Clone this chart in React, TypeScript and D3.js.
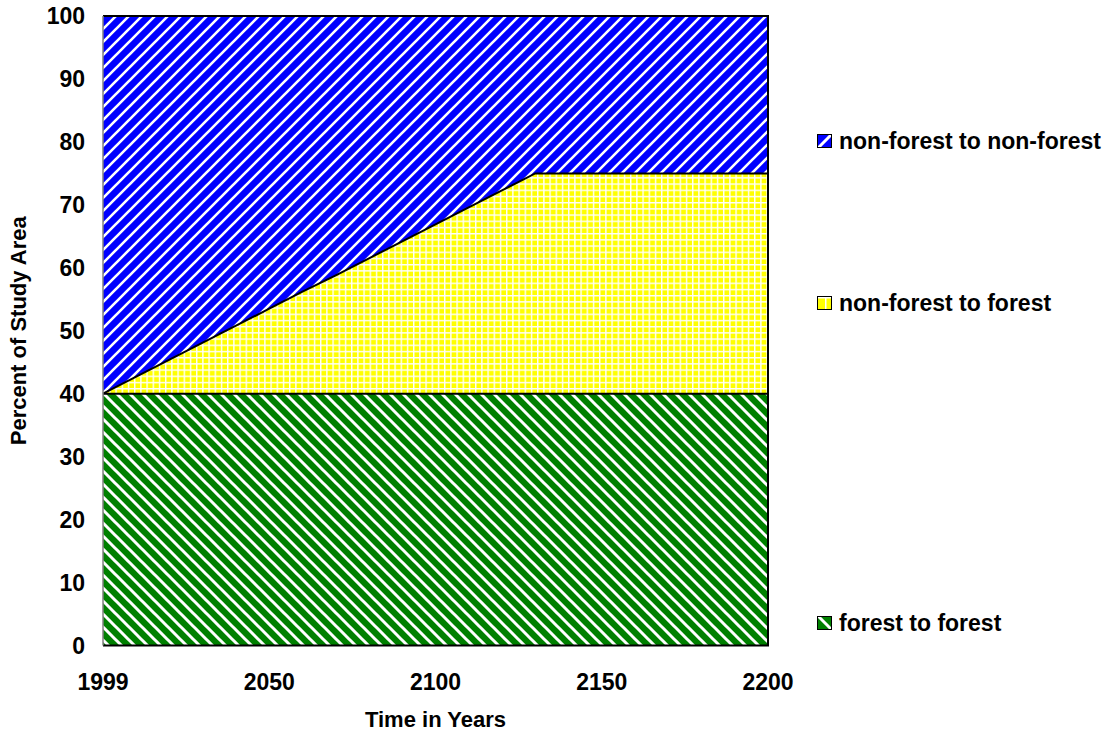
import React from "react";
import * as d3 from "d3";

const categories = ["1999","2010","2020","2030","2040","2050","2060","2070","2080","2090","2100","2110","2120","2130","2140","2150","2160","2170","2180","2190","2200"];
const forestToForest = [40,40,40,40,40,40,40,40,40,40,40,40,40,40,40,40,40,40,40,40,40];
const nonForestToForest = [0,2.7,5.4,8.1,10.8,13.5,16.2,18.8,21.5,24.2,26.9,29.6,32.3,35,35,35,35,35,35,35,35];
const nonForestToNonForest = [60,57.3,54.6,51.9,49.2,46.5,43.8,41.2,38.5,35.8,33.1,30.4,27.7,25,25,25,25,25,25,25,25];
const yTicks = [0,10,20,30,40,50,60,70,80,90,100];
const seriesNames = ["forest to forest","non-forest to forest","non-forest to non-forest"];

const FONT = "'Liberation Sans', Arial, sans-serif";

export default function App() {
  const W = 1110, H = 736;
  const left = 103, right = 768, top = 16, bottom = 645.5;
  const x = d3.scalePoint<string>().domain(categories).range([left, right]);
  const y = d3.scaleLinear().domain([0, 100]).range([bottom, top]);

  const rows = categories.map((c, i) => ({
    cat: c,
    f2f: forestToForest[i],
    nf2f: nonForestToForest[i],
    nf2nf: nonForestToNonForest[i],
  }));
  const stack = d3.stack<any>().keys(["f2f", "nf2f", "nf2nf"]);
  const layers = stack(rows);
  const area = d3.area<any>()
    .x((d) => x(d.data.cat) as number)
    .y0((d) => y(d[0]))
    .y1((d) => y(d[1]));
  const topLine = d3.line<any>()
    .x((d) => x(d.data.cat) as number)
    .y((d) => y(d[1]));

  const fills = ["url(#pGreen)", "url(#pYellow)", "url(#pBlue)"];
  const xTickCats = categories.filter((_, i) => i % 5 === 0);

  const legend = [
    { name: seriesNames[2], fill: "url(#pBlueL)", y: 141 },
    { name: seriesNames[1], fill: "url(#pYellowL)", y: 303 },
    { name: seriesNames[0], fill: "url(#pGreenL)", y: 623 },
  ];

  const P = 13; // stripe period
  const G = 6.2; // grid period

  return (
    <svg width={W} height={H} style={{ position: "absolute", left: 0, top: 0, display: "block", background: "#fff" }}>
      <defs>
        <pattern id="pBlue" patternUnits="userSpaceOnUse" width={P} height={P} x={left} y={top}>
          <rect width={P} height={P} fill="#0000ff" />
          <path d={`M${-P / 4},${P / 4} L${P / 4},${-P / 4} M0,${P} L${P},0 M${P * 0.75},${P * 1.25} L${P * 1.25},${P * 0.75}`} stroke="#ffffff" strokeWidth={2.6} />
        </pattern>
        <pattern id="pGreen" patternUnits="userSpaceOnUse" width={P} height={P} x={left} y={top}>
          <rect width={P} height={P} fill="#008000" />
          <path d={`M${-P / 4},${P * 0.75} L${P / 4},${P * 1.25} M0,0 L${P},${P} M${P * 0.75},${-P / 4} L${P * 1.25},${P / 4}`} stroke="#ffffff" strokeWidth={3} />
        </pattern>
        <pattern id="pYellow" patternUnits="userSpaceOnUse" width={G} height={G} x={left} y={top}>
          <rect width={G} height={G} fill="#ffff00" />
          <rect x={0} y={0} width={G} height={1.4} fill="#ffffff" />
          <rect x={0} y={0} width={1.4} height={G} fill="#ffffff" />
        </pattern>
        <pattern id="pBlueL" patternUnits="userSpaceOnUse" width={16} height={16} x={817} y={133}>
          <rect width={16} height={16} fill="#0000ff" />
          <path d="M0,16 L16,0" stroke="#ffffff" strokeWidth={3} />
        </pattern>
        <pattern id="pGreenL" patternUnits="userSpaceOnUse" width={16} height={16} x={817} y={615}>
          <rect width={16} height={16} fill="#008000" />
          <path d="M0,0 L16,16" stroke="#ffffff" strokeWidth={3} />
        </pattern>
        <pattern id="pYellowL" patternUnits="userSpaceOnUse" width={16} height={16} x={817} y={295}>
          <rect width={16} height={16} fill="#ffff00" />
          <rect x={8} y={0} width={1.5} height={16} fill="#ffffff" />
          <rect x={0} y={2} width={16} height={1.5} fill="#ffffff" />
        </pattern>
      </defs>

      {layers.map((layer, i) => (
        <path key={i} d={area(layer as any) || ""} fill={fills[i]} stroke="none" />
      ))}
      {layers.slice(0, 2).map((layer, i) => (
        <path key={"l" + i} d={topLine(layer as any) || ""} fill="none" stroke="#000" strokeWidth={2} />
      ))}

      {/* plot frame */}
      <path d={`M${left},${top} L${right},${top} L${right},${bottom} L${left},${bottom}`} fill="none" stroke="#000" strokeWidth={2} />
      <line x1={left} x2={left} y1={top} y2={bottom} stroke="#808080" strokeWidth={1.5} />

      {yTicks.map((t) => (
        <text key={t} x={85} y={y(t)} dy="0.35em" textAnchor="end" fontFamily={FONT} fontWeight="bold" fontSize={23} fill="#000">
          {t}
        </text>
      ))}
      {xTickCats.map((c) => (
        <text key={c} x={x(c)} y={690} textAnchor="middle" fontFamily={FONT} fontWeight="bold" fontSize={23} fill="#000">
          {c}
        </text>
      ))}

      <text x={(left + right) / 2} y={727} textAnchor="middle" fontFamily={FONT} fontWeight="bold" fontSize={22} fill="#000">
        Time in Years
      </text>
      <text transform={`translate(26,${(top + bottom) / 2}) rotate(-90)`} textAnchor="middle" fontFamily={FONT} fontWeight="bold" fontSize={22} fill="#000">
        Percent of Study Area
      </text>

      {legend.map((l) => (
        <g key={l.name}>
          <rect x={817.5} y={l.y - 6.5} width={14} height={13} fill={l.fill} stroke="#000" strokeWidth={1} />
          <text x={839} y={l.y} dy="0.35em" fontFamily={FONT} fontWeight="bold" fontSize={23} fill="#000">
            {l.name}
          </text>
        </g>
      ))}
    </svg>
  );
}
